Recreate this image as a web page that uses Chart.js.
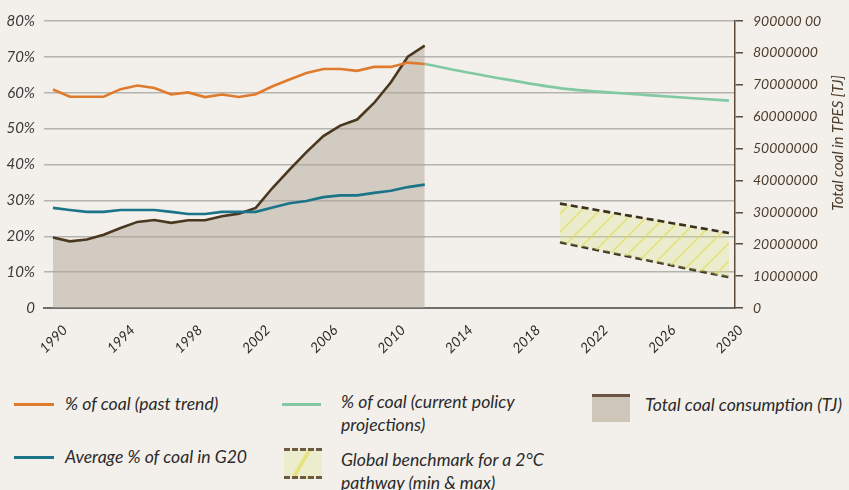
<!DOCTYPE html>
<html>
<head>
<meta charset="utf-8">
<script src="https://cdn.jsdelivr.net/npm/chart.js@4.4.1/dist/chart.umd.min.js"></script>
<style>
  body { margin: 0; background: #f3f0eb; font-family: Lato, "Open Sans", sans-serif; }
  #wrap { position: relative; width: 849px; height: 490px; overflow: hidden; }
  #myChart { position: absolute; left: 0; top: 0; }
  .lg { position: absolute; font-style: italic; font-size: 17.6px; color: #2a2a2a; line-height: 22.5px; white-space: nowrap; }
  .ln { position: absolute; height: 3px; }
  .sw { position: absolute; }
</style>
</head>
<body>
<div id="wrap">
  <canvas id="myChart" width="849" height="365"></canvas>

  <div class="ln" style="left:14px;top:403px;width:40px;background:#e07b2e"></div>
  <div class="lg" style="left:65px;top:393px">% of coal (past trend)</div>

  <div class="ln" style="left:14px;top:456px;width:40px;background:#1b7489"></div>
  <div class="lg" style="left:65px;top:446px">Average % of coal in G20</div>

  <div class="ln" style="left:282px;top:403px;width:39px;background:#80c9a3"></div>
  <div class="lg" style="left:341px;top:391px">% of coal (current policy<br>projections)</div>

  <div class="sw" style="left:284px;top:448px;width:38px;height:31px;box-sizing:border-box;border-top:3px dashed #6e5a44;border-bottom:3px dashed #6e5a44;background:linear-gradient(120deg, #ecedcc 0%, #ecedcc 42%, #e6e37a 45%, #e6e37a 50%, #ecedcc 53%, #ecedcc 100%)"></div>
  <div class="lg" style="left:341px;top:449px">Global benchmark for a 2°C<br>pathway (min &amp; max)</div>

  <div class="sw" style="left:592px;top:394px;width:38px;height:28px;box-sizing:border-box;border-top:3px solid #6b5542;background:#cdc6b9"></div>
  <div class="lg" style="left:645px;top:394px">Total coal consumption (TJ)</div>
</div>

<script>
// historical years
const pastYears = [1990, 1991, 1992, 1993, 1994, 1995, 1996, 1997, 1998, 1999, 2000, 2001,
                   2002, 2003, 2004, 2005, 2006, 2007, 2008, 2009, 2010, 2011, 2012];
// % of coal (past trend)
const coalPast = [60.9, 58.9, 58.9, 58.9, 61.0, 62.0, 61.3, 59.5, 60.1, 58.8, 59.5, 58.8,
                  59.6, 61.8, 63.7, 65.5, 66.6, 66.6, 66.1, 67.2, 67.2, 68.4, 68.0];
// Average % of coal in G20
const g20Avg = [27.9, 27.3, 26.8, 26.8, 27.3, 27.3, 27.3, 26.8, 26.2, 26.2, 26.8, 26.8,
                26.8, 28.0, 29.2, 29.8, 30.9, 31.4, 31.4, 32.1, 32.7, 33.7, 34.4];
// Total coal consumption (TJ)
const totalCoal = [22100000, 20900000, 21500000, 23000000, 25100000, 27000000, 27600000, 26700000,
                   27500000, 27500000, 28800000, 29600000, 31400000, 37700000, 43400000, 48900000,
                   53900000, 57200000, 59100000, 64300000, 70800000, 78800000, 82300000];
// % of coal (current policy projections)
const policyYears = [2012, 2016, 2020, 2025, 2030];
const policyCoal = [68.0, 64.4, 61.3, 59.4, 57.8];
// 2°C benchmark (min & max)
const benchYears = [2020, 2030];
const benchMax = [29.1, 20.9];
const benchMin = [18.3, 8.6];

const xTicks = [1990, 1994, 1998, 2002, 2006, 2010, 2014, 2018, 2022, 2026, 2030];
const xTickLabels = ['1990', '1994', '1998', '2002', '2006', '2010', '2014', '2018', '2022', '2026', '2030'];
const yLeftLabels = ['0', '10%', '20%', '30%', '40%', '50%', '60%', '70%', '80%'];
const yRightLabels = ['0', '10000000', '20000000', '30000000', '40000000', '50000000',
                      '60000000', '70000000', '80000000', '900000 00'];
const rightTitle = 'Total coal in TPES [TJ]';

function pts(xs, ys) {
    return xs.map((x, i) => ({ x: x, y: ys[i] }));
}

function hatchPattern() {
    const c = document.createElement('canvas');
    c.width = 18;
    c.height = 18;
    const g = c.getContext('2d');
    g.fillStyle = 'rgba(216,227,135,0.3)';
    g.fillRect(0, 0, 18, 18);
    g.strokeStyle = 'rgba(226,222,92,0.7)';
    g.lineWidth = 1.6;
    g.beginPath();
    g.moveTo(-2, 20); g.lineTo(20, -2);
    g.moveTo(16, 20); g.lineTo(20, 16);
    g.moveTo(-2, 2); g.lineTo(2, -2);
    g.stroke();
    return g.createPattern(c, 'repeat');
}

const rightTitlePlugin = {
    id: 'rightTitle',
    afterDraw(chart) {
        const ctx = chart.ctx;
        ctx.save();
        ctx.translate(838, 143);
        ctx.rotate(-Math.PI / 2);
        ctx.font = 'italic 15px Lato';
        ctx.fillStyle = '#4d3d2d';
        ctx.textAlign = 'center';
        ctx.textBaseline = 'middle';
        ctx.fillText(rightTitle, 0, 0);
        ctx.restore();
    }
};

const dashColor = '#3d2f1e';

const config = {
    type: 'line',
    data: {
        datasets: [
            {
                label: '% of coal (past trend)',
                data: pts(pastYears, coalPast),
                borderColor: '#e07b2e',
                borderWidth: 2.6,
                yAxisID: 'y'
            },
            {
                label: '% of coal (current policy projections)',
                data: pts(policyYears, policyCoal),
                borderColor: '#80c9a3',
                borderWidth: 2.6,
                cubicInterpolationMode: 'monotone',
                tension: 0.4,
                yAxisID: 'y'
            },
            {
                label: 'Average % of coal in G20',
                data: pts(pastYears, g20Avg),
                borderColor: '#1b7489',
                borderWidth: 2.6,
                yAxisID: 'y'
            },
            {
                label: 'Benchmark max',
                data: pts(benchYears, benchMax),
                borderColor: dashColor,
                borderWidth: 2.6,
                borderDash: [7, 4],
                backgroundColor: hatchPattern(),
                fill: '+1',
                yAxisID: 'y'
            },
            {
                label: 'Benchmark min',
                data: pts(benchYears, benchMin),
                borderColor: dashColor,
                borderWidth: 2.6,
                borderDash: [7, 4],
                fill: false,
                yAxisID: 'y'
            },
            {
                label: 'Total coal consumption (TJ)',
                data: pts(pastYears, totalCoal),
                borderColor: '#4a3720',
                borderWidth: 2.6,
                backgroundColor: 'rgba(175,166,151,0.5)',
                fill: 'origin',
                yAxisID: 'y2'
            }
        ]
    },
    options: {
        responsive: false,
        animation: false,
        layout: { padding: { top: 21, left: 0, right: 0, bottom: 0 } },
        elements: {
            point: { radius: 0 },
            line: { tension: 0, fill: false }
        },
        plugins: {
            legend: { display: false },
            tooltip: { enabled: false }
        },
        scales: {
            x: {
                type: 'linear',
                min: 1989.47,
                max: 2030.36,
                afterBuildTicks: (scale) => {
                    scale.ticks = xTicks.map(v => ({ value: v }));
                },
                afterFit: (scale) => { scale.height = 57; },
                grid: { display: false, drawTicks: false },
                border: { display: true, color: '#6e6e6e', width: 2 },
                ticks: {
                    autoSkip: false,
                    minRotation: 45,
                    maxRotation: 45,
                    padding: 14,
                    labelOffset: 12,
                    color: '#2b2b2b',
                    font: { family: 'Lato', style: 'italic', size: 14 },
                    callback: (value, index) => xTickLabels[index]
                }
            },
            y: {
                position: 'left',
                min: 0,
                max: 80,
                afterFit: (scale) => { scale.width = 44; },
                grid: { color: '#b5b3af', lineWidth: 1.5, drawTicks: false },
                border: { display: false },
                ticks: {
                    stepSize: 10,
                    padding: 9,
                    color: '#3a3a3a',
                    font: { family: 'Lato', style: 'italic', size: 15 },
                    callback: (value, index) => yLeftLabels[index]
                }
            },
            y2: {
                position: 'right',
                min: 0,
                max: 90000000,
                afterFit: (scale) => { scale.width = 114; },
                grid: { drawOnChartArea: false, drawTicks: true, tickLength: 8, color: '#5c4a3a', lineWidth: 1.5 },
                border: { display: true, color: '#5c4a3a', width: 1.5 },
                ticks: {
                    stepSize: 10000000,
                    padding: 10,
                    color: '#4d3d2d',
                    font: { family: 'Lato', style: 'italic', size: 14 },
                    callback: (value, index) => yRightLabels[index]
                }
            }
        }
    },
    plugins: [rightTitlePlugin]
};

window.coalChart = new Chart(document.getElementById('myChart'), config);
</script>
</body>
</html>
